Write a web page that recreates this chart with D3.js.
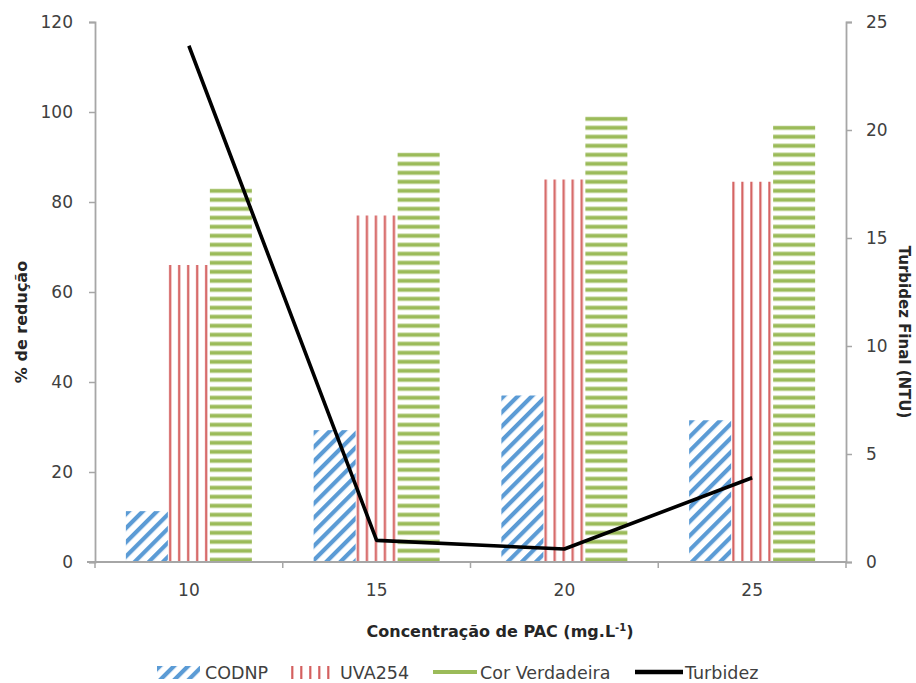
<!DOCTYPE html>
<html>
<head>
<meta charset="utf-8">
<script src="https://cdn.jsdelivr.net/npm/d3@7"></script>
<style>
  html, body { margin: 0; padding: 0; background: #ffffff; }
  svg { display: block; }
  text { font-family: "DejaVu Sans", sans-serif; }
</style>
</head>
<body>
<svg id="chart" width="916" height="683"></svg>
<script>
// PAC dose (mg/L) on the category axis
const categories = ["10", "15", "20", "25"];

// Removal percentages (left axis)
const codnp = [11.3, 29.3, 37.0, 31.5];
const uva254 = [66, 77, 85, 84.5];
const corVerdadeira = [83, 91, 99, 97];

// Final turbidity in NTU (right axis)
const turbidez = [23.9, 1.0, 0.6, 3.9];

const leftTicks = [0, 20, 40, 60, 80, 100, 120];
const rightTicks = [0, 5, 10, 15, 20, 25];

const barSeries = [
  { key: "CODNP", values: codnp, kind: "diag", color: "#5b9bd5" },
  { key: "UVA254", values: uva254, kind: "vert", color: "#d4605f" },
  { key: "Cor Verdadeira", values: corVerdadeira, kind: "horiz", color: "#9bbb59" }
];

const svg = d3.select("#chart");
const defs = svg.append("defs");

const plot = { left: 95, right: 846, top: 22, bottom: 562 };
const axisColor = "#a6a6a6";
const tickText = "#404040";

const x = d3.scaleBand().domain(categories).range([plot.left, plot.right]).paddingInner(0).paddingOuter(0);
const xSub = d3.scaleBand().domain(barSeries.map(s => s.key)).range([0, x.bandwidth()]).paddingInner(0).paddingOuter(0.735);
const yL = d3.scaleLinear().domain([0, 120]).range([plot.bottom, plot.top]);
const yR = d3.scaleLinear().domain([0, 25]).range([plot.bottom, plot.top]);

// Hatch fill anchored at (ox, oy) so the stripes line up with each bar
function makePattern(id, kind, color, ox, oy) {
  if (kind === "diag") {
    const p = defs.append("pattern").attr("id", id)
      .attr("patternUnits", "userSpaceOnUse").attr("width", 10).attr("height", 10)
      .attr("patternTransform", `translate(${ox},${oy}) rotate(45)`);
    p.append("rect").attr("x", 0).attr("y", 0).attr("width", 4.2).attr("height", 10).attr("fill", color);
  } else if (kind === "vert") {
    const p = defs.append("pattern").attr("id", id)
      .attr("patternUnits", "userSpaceOnUse").attr("width", 9).attr("height", 10)
      .attr("patternTransform", `translate(${ox},${oy})`);
    p.append("rect").attr("x", 1.2).attr("y", 0).attr("width", 2.2).attr("height", 10).attr("fill", color);
  } else {
    const p = defs.append("pattern").attr("id", id)
      .attr("patternUnits", "userSpaceOnUse").attr("width", 10).attr("height", 9)
      .attr("patternTransform", `translate(${ox},${oy})`);
    p.append("rect").attr("x", 0).attr("y", 0.3).attr("width", 10).attr("height", 4).attr("fill", color);
  }
  return `url(#${id})`;
}

// Bars
const barsG = svg.append("g");
barSeries.forEach((s, si) => {
  categories.forEach((c, ci) => {
    const bx = x(c) + xSub(s.key);
    const by = yL(s.values[ci]);
    const fill = makePattern(`pat-${si}-${ci}`, s.kind, s.color, bx, by);
    barsG.append("rect")
      .attr("x", bx).attr("y", by)
      .attr("width", xSub.bandwidth())
      .attr("height", yL(0) - by)
      .attr("fill", fill);
  });
});

// Left axis
const axL = svg.append("g").attr("transform", `translate(${plot.left},0)`)
  .call(d3.axisLeft(yL).tickValues(leftTicks).tickSize(6).tickPadding(16).tickFormat(d3.format("d")));
// Right axis
const axR = svg.append("g").attr("transform", `translate(${plot.right},0)`)
  .call(d3.axisRight(yR).tickValues(rightTicks).tickSize(6).tickPadding(14).tickFormat(d3.format("d")));
// Category axis: ticks sit between categories
const boundaries = categories.map(c => x(c)).concat([plot.right]);
const axB = svg.append("g").attr("transform", `translate(0,${plot.bottom})`)
  .call(d3.axisBottom(x).tickSize(0).tickPadding(22));
axB.selectAll(".bnd").data(boundaries).enter().append("line")
  .attr("class", "bnd")
  .attr("x1", d => d).attr("x2", d => d).attr("y1", 0).attr("y2", 6)
  .attr("stroke", axisColor).attr("stroke-width", 1.5);

[axL, axR, axB].forEach(g => {
  g.select(".domain").attr("stroke", axisColor).attr("stroke-width", 1.8);
  g.selectAll(".tick line").attr("stroke", axisColor).attr("stroke-width", 1.5);
  g.selectAll(".tick text").attr("fill", tickText).attr("font-size", 17)
    .attr("font-family", "DejaVu Sans, sans-serif");
});
axB.select(".domain").attr("d", `M${plot.left - 8},0H${plot.right}`);

// Turbidity line
const line = d3.line().x((d, i) => x(categories[i]) + x.bandwidth() / 2).y(d => yR(d));
svg.append("path").datum(turbidez)
  .attr("d", line).attr("fill", "none")
  .attr("stroke", "#000000").attr("stroke-width", 3.6).attr("stroke-linejoin", "round");

// Axis titles
svg.append("text")
  .attr("transform", "translate(27,322) rotate(-90)")
  .attr("text-anchor", "middle").attr("font-size", 16).attr("font-weight", "bold").attr("fill", "#262626")
  .text("% de redução");

svg.append("text")
  .attr("transform", "translate(899,332) rotate(90)")
  .attr("text-anchor", "middle").attr("font-size", 15).attr("font-weight", "bold").attr("fill", "#262626")
  .text("Turbidez Final (NTU)");

const xt = svg.append("text")
  .attr("x", 500).attr("y", 637)
  .attr("text-anchor", "middle").attr("font-size", 16).attr("font-weight", "bold").attr("fill", "#262626");
xt.append("tspan").text("Concentração de PAC (mg.L");
xt.append("tspan").attr("font-size", 10).attr("dy", -6).text("-1");
xt.append("tspan").attr("dy", 6).text(")");

// Legend
const legY = 672;
const leg = svg.append("g");
const legItems = [
  { key: "CODNP", sx: 157, sw: 43, tx: 205, type: "diag", color: "#5b9bd5" },
  { key: "UVA254", sx: 290, sw: 40, tx: 340, type: "vert", color: "#d4605f" },
  { key: "Cor Verdadeira", sx: 433, sw: 44, tx: 480, type: "line", color: "#9bbb59", lw: 4 },
  { key: "Turbidez", sx: 635, sw: 48, tx: 685, type: "line", color: "#000000", lw: 4.5 }
];
legItems.forEach((it, i) => {
  if (it.type === "line") {
    leg.append("line").attr("x1", it.sx).attr("x2", it.sx + it.sw)
      .attr("y1", legY).attr("y2", legY)
      .attr("stroke", it.color).attr("stroke-width", it.lw);
  } else {
    const fill = makePattern(`leg-${i}`, it.type, it.color, it.sx, legY - 6);
    leg.append("rect").attr("x", it.sx).attr("y", legY - 6)
      .attr("width", it.sw).attr("height", 13).attr("fill", fill);
  }
  leg.append("text").attr("x", it.tx).attr("y", legY + 6.5)
    .attr("font-size", 17.5).attr("fill", tickText).text(it.key);
});
</script>
</body>
</html>
